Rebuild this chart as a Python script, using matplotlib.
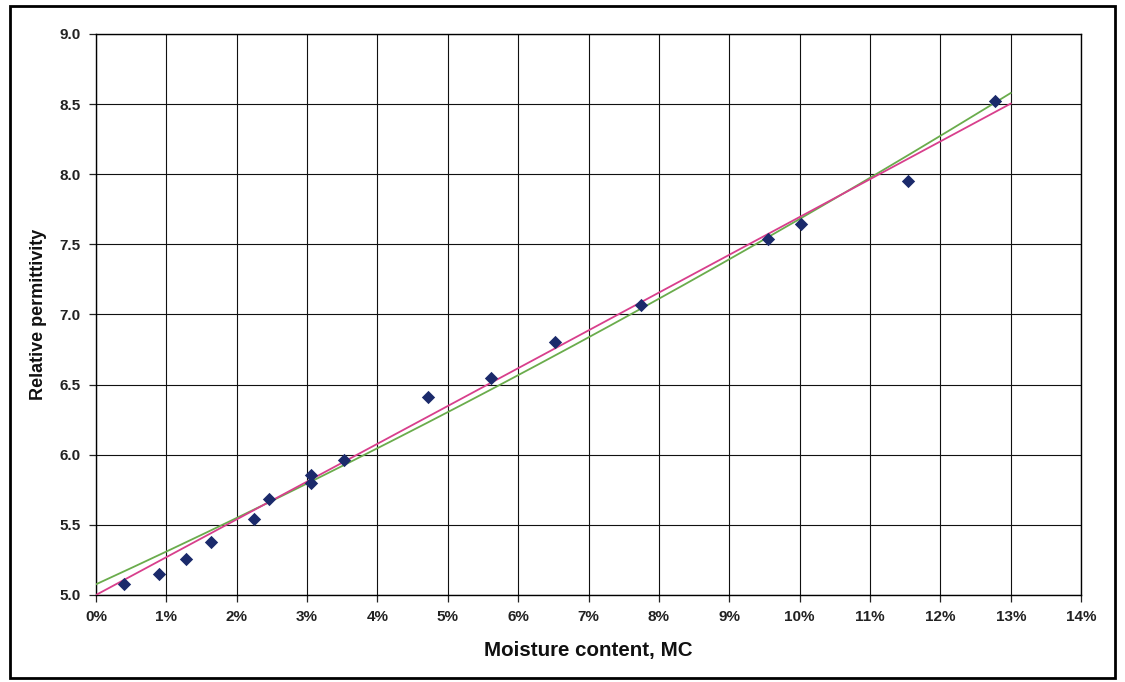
import matplotlib.pyplot as plt
import numpy as np
from matplotlib.patches import Rectangle

# moisture content (%) and measured relative permittivity
mc = [0.40, 0.89, 1.28, 1.63, 2.24, 2.46, 3.05, 3.05, 3.52, 4.72, 5.62,
      6.52, 7.74, 9.55, 10.02, 11.54, 12.78]
eps = [5.08, 5.15, 5.26, 5.38, 5.54, 5.685, 5.855, 5.795, 5.96, 6.41, 6.545,
       6.805, 7.07, 7.54, 7.645, 7.95, 8.52]

# trend lines (polynomial coefficients, highest first)
lin_coef = [0.2695, 5.0]
quad_coef = [0.00299, 0.2306, 5.076]
trend_x = [0.0, 13.0]

plt.rcParams['font.family'] = ['Liberation Sans', 'DejaVu Sans']

fig = plt.figure(figsize=(11.25, 6.82), dpi=100)
ax = fig.add_axes([0.0853, 0.1276, 0.8757, 0.8226])

xs = np.linspace(trend_x[0], trend_x[1], 200)
ax.plot(xs, np.polyval(quad_coef, xs), color='#6aac4c', lw=1.3, zorder=3)
ax.plot(xs, np.polyval(lin_coef, xs), color='#d83f8c', lw=1.3, zorder=4)
ax.scatter(mc, eps, marker='D', s=46, color='#1b2a6b', zorder=5, linewidths=0)

ax.set_xlim(0, 14)
ax.set_ylim(5.0, 9.0)
ax.set_xticks(np.arange(0, 15, 1))
ax.set_xticklabels([f"{i}%" for i in range(15)])
ax.set_yticks(np.arange(5.0, 9.01, 0.5))
ax.set_yticklabels([f"{v:.1f}" for v in np.arange(5.0, 9.01, 0.5)])
ax.grid(True, color='#111111', lw=0.8)
ax.set_axisbelow(True)
for s in ax.spines.values():
    s.set_color('black')
    s.set_linewidth(1.0)
ax.tick_params(axis='both', length=5, width=0.9, direction='out', labelsize=11, pad=6,
               colors='#222222')
for lab in ax.get_xticklabels() + ax.get_yticklabels():
    lab.set_fontweight('bold')

ax.set_xlabel("Moisture content, MC", fontsize=14.8, fontweight='bold', labelpad=12,
              color='#111111')
ax.set_ylabel("Relative permittivity", fontsize=13, fontweight='bold', labelpad=9,
              color='#111111')

fig.patches.append(Rectangle((0.009, 0.006), 0.982, 0.985, transform=fig.transFigure,
                             fill=False, edgecolor='black', lw=2))

fig.savefig("out.png", dpi=100)
